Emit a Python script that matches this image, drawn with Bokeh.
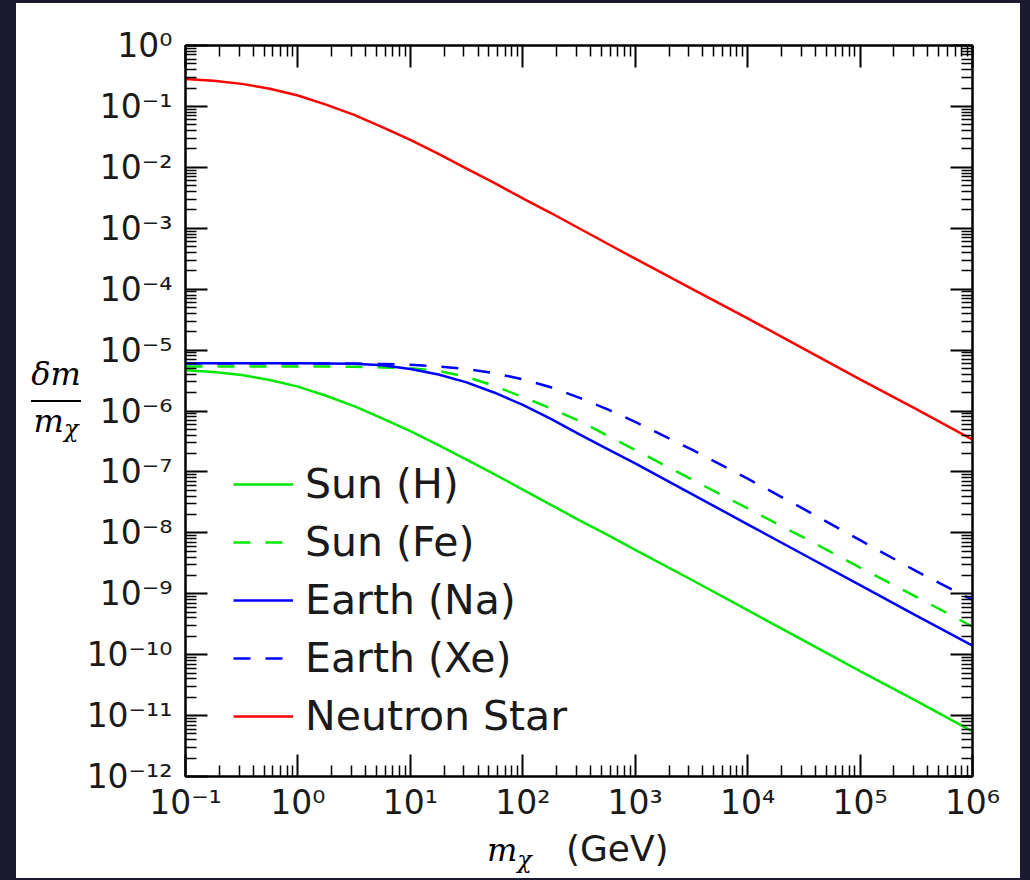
from bokeh.plotting import figure
from bokeh.layouts import row, column
from bokeh.models import (Range1d, FixedTicker, LogAxis, CustomJSTickFormatter,
                          Legend, LegendItem, Div, GlobalInlineStyleSheet)
from bokeh.embed import file_html
from bokeh.resources import INLINE

# ---------------- data ----------------
# dark-matter mass grid, as log10(m_chi / GeV)
mass_exp = [-1, -0.75, -0.5, -0.25, 0, 0.25, 0.5, 0.75, 1, 1.25, 1.5, 1.75,
            2, 2.25, 2.5, 2.75, 3, 3.5, 4, 4.5, 5, 5.5, 6]

# log10(delta m / m_chi) for each target
sun_h_exp = [-5.33, -5.36, -5.41, -5.49, -5.60, -5.75, -5.92, -6.12, -6.33, -6.56, -6.80, -7.04,
             -7.29, -7.54, -7.79, -8.03, -8.28, -8.77, -9.27, -9.77, -10.27, -10.76, -11.26]
sun_fe_exp = [-5.27, -5.27, -5.27, -5.27, -5.27, -5.27, -5.275, -5.285, -5.30, -5.34, -5.44, -5.59,
              -5.77, -5.96, -6.16, -6.40, -6.64, -7.12, -7.60, -8.08, -8.57, -9.05, -9.54]
earth_na_exp = [-5.215, -5.215, -5.215, -5.215, -5.215, -5.22, -5.225, -5.25, -5.31, -5.40, -5.53, -5.70,
                -5.90, -6.13, -6.38, -6.62, -6.86, -7.36, -7.86, -8.36, -8.86, -9.36, -9.85]
earth_xe_exp = [-5.22, -5.22, -5.22, -5.22, -5.22, -5.22, -5.222, -5.23, -5.24, -5.27, -5.31, -5.38,
                -5.48, -5.61, -5.78, -5.97, -6.18, -6.63, -7.11, -7.61, -8.12, -8.63, -9.10]
neutron_star_exp = [-0.55, -0.58, -0.63, -0.71, -0.82, -0.97, -1.14, -1.34, -1.55, -1.78, -2.02, -2.26,
                    -2.51, -2.75, -3.00, -3.25, -3.50, -3.99, -4.48, -4.98, -5.48, -5.97, -6.47]

series_names = ["Sun (H)", "Sun (Fe)", "Earth (Na)", "Earth (Xe)", "Neutron Star"]

x_tick_exps = [-1, 0, 1, 2, 3, 4, 5, 6]
x_tick_labels = ["10⁻¹", "10⁰", "10¹", "10²", "10³", "10⁴", "10⁵", "10⁶"]
y_tick_exps = [-12, -11, -10, -9, -8, -7, -6, -5, -4, -3, -2, -1, 0]
y_tick_labels = ["10⁻¹²", "10⁻¹¹", "10⁻¹⁰", "10⁻⁹", "10⁻⁸", "10⁻⁷", "10⁻⁶",
                 "10⁻⁵", "10⁻⁴", "10⁻³", "10⁻²", "10⁻¹", "10⁰"]

x_title = ("m", "χ", "(GeV)")
y_title = ("δm", "m", "χ")

# ---------------- conversion to linear values ----------------
mass = [10 ** e for e in mass_exp]
to_lin = lambda arr: [10 ** e for e in arr]

# ---------------- styles ----------------
GREEN = "#00e800"
BLUE = "#0000ff"
RED = "#ff0000"
NAVY = "#1c1a30"
TXT = "#1a1a1a"
LW = 2.5
DASH = "17 15"

LEFT_W = 67
BORDER_L, BORDER_R, BORDER_T, BORDER_B = 97, 48, 42, 50
FRAME_W, FRAME_H = 787, 731
MAIN_H = BORDER_T + FRAME_H + BORDER_B
TOTAL_W = 1004
BOT_H = 52

fig = figure(x_axis_type="log", y_axis_type="log",
             x_range=Range1d(10 ** x_tick_exps[0], 10 ** x_tick_exps[-1]),
             y_range=Range1d(10 ** y_tick_exps[0], 10 ** y_tick_exps[-1]),
             frame_width=FRAME_W, frame_height=FRAME_H,
             min_border_left=BORDER_L, min_border_right=BORDER_R,
             min_border_top=BORDER_T, min_border_bottom=BORDER_B,
             output_backend="svg", toolbar_location=None, margin=0,
             background_fill_color="white", border_fill_color="white")
fig.grid.visible = False
fig.outline_line_color = "black"
fig.outline_line_width = 2

xmajor = [10.0 ** e for e in x_tick_exps]
xminor = [m * 10.0 ** e for e in x_tick_exps[:-1] for m in range(2, 10)]
ymajor = [10.0 ** e for e in y_tick_exps]
yminor = [m * 10.0 ** e for e in y_tick_exps[:-1] for m in range(2, 10)]

fmt_code = """
const e = Math.round(Math.log10(tick));
const i = exps.indexOf(e);
return i >= 0 ? labels[i] : "";
"""
xfmt = CustomJSTickFormatter(args=dict(exps=x_tick_exps, labels=x_tick_labels), code=fmt_code)
yfmt = CustomJSTickFormatter(args=dict(exps=y_tick_exps, labels=y_tick_labels), code=fmt_code)
blank = CustomJSTickFormatter(code="return '';")


def style_axis(ax, standoff):
    ax.axis_line_color = "black"
    ax.axis_line_width = 2
    ax.major_tick_in = 22
    ax.major_tick_out = 0
    ax.minor_tick_in = 11
    ax.minor_tick_out = 0
    ax.major_tick_line_width = 2
    ax.minor_tick_line_width = 1.5
    ax.major_tick_line_color = "black"
    ax.minor_tick_line_color = "black"
    ax.major_label_text_font = "DejaVu Sans"
    ax.major_label_text_font_size = "33px"
    ax.major_label_text_color = TXT
    ax.major_label_standoff = standoff


fig.xaxis.ticker = FixedTicker(ticks=xmajor, minor_ticks=xminor)
fig.yaxis.ticker = FixedTicker(ticks=ymajor, minor_ticks=yminor)
fig.xaxis.formatter = xfmt
fig.yaxis.formatter = yfmt
style_axis(fig.xaxis[0], 6)
style_axis(fig.yaxis[0], 13)

top = LogAxis(ticker=FixedTicker(ticks=xmajor, minor_ticks=xminor), formatter=blank)
right = LogAxis(ticker=FixedTicker(ticks=ymajor, minor_ticks=yminor), formatter=blank)
style_axis(top, 0)
style_axis(right, 0)
top.major_label_text_font_size = "1px"
right.major_label_text_font_size = "1px"
fig.add_layout(top, "above")
fig.add_layout(right, "right")

r1 = fig.line(mass, to_lin(sun_h_exp), line_color=GREEN, line_width=LW)
r2 = fig.line(mass, to_lin(sun_fe_exp), line_color=GREEN, line_width=LW, line_dash=DASH)
r3 = fig.line(mass, to_lin(earth_na_exp), line_color=BLUE, line_width=LW)
r4 = fig.line(mass, to_lin(earth_xe_exp), line_color=BLUE, line_width=LW, line_dash=DASH)
r5 = fig.line(mass, to_lin(neutron_star_exp), line_color=RED, line_width=LW)

legend = Legend(items=[LegendItem(label=n, renderers=[r]) for n, r in
                       zip(series_names, [r1, r2, r3, r4, r5])],
                location=(48, 36), margin=0, padding=0, spacing=10,
                glyph_width=60, glyph_height=40, label_height=40, label_standoff=12,
                label_text_font="DejaVu Sans", label_text_font_size="41px",
                label_text_color=TXT, border_line_color=None,
                background_fill_alpha=0)
fig.add_layout(legend)

# ---- axis titles as HTML text beside / below the plot ----
SERIF = "font-family:'DejaVu Serif',serif;font-style:italic;"
left_html = (
    '<div style="padding-top:355px;margin-left:15px;width:50px;text-align:center;color:#000;%s">'
    '<div style="font-size:32px;line-height:32px;white-space:nowrap;">%s</div>'
    '<div style="margin-top:10px;border-top:2px solid #000;height:0;"></div>'
    '<div style="margin-top:3px;font-size:32px;line-height:32px;white-space:nowrap;">%s'
    '<span style="font-size:24px;position:relative;top:5px;">%s</span></div>'
    '</div>' % (SERIF, y_title[0], y_title[1], y_title[2]))
bottom_html = (
    '<div style="padding-top:3px;padding-left:471px;white-space:nowrap;line-height:40px;color:%s;">'
    '<span style="%sfont-size:32px;color:#000;">%s</span>'
    '<span style="%sfont-size:24px;color:#000;position:relative;top:7px;">%s</span>'
    '<span style="font-family:\'DejaVu Sans\',sans-serif;font-size:36px;margin-left:34px;">%s</span>'
    '</div>' % (TXT, SERIF, x_title[0], SERIF, x_title[1], x_title[2]))

left = Div(text=left_html, width=LEFT_W, height=MAIN_H, margin=0)
bottom = Div(text=bottom_html, width=TOTAL_W, height=BOT_H, margin=0)

p = column(row(left, fig, spacing=0, margin=0), bottom, spacing=0, margin=0,
           styles={"background-color": "white"})
p.stylesheets = [GlobalInlineStyleSheet(
    css="body { background-color: %s; margin: 3px 0 0 16px; }" % NAVY)]

open("out.html", "w").write(file_html(p, INLINE))
